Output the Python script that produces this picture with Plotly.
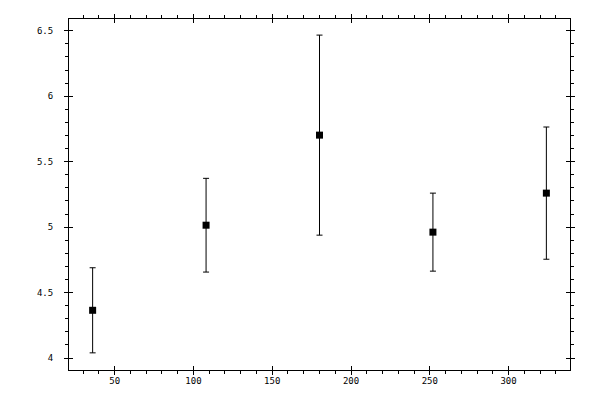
import plotly.graph_objects as go

# datos
angulos = [36, 108, 180, 252, 324]
valores = [4.365, 5.015, 5.703, 4.962, 5.260]
errores = [0.325, 0.358, 0.764, 0.298, 0.505]

xtick_vals = [50, 100, 150, 200, 250, 300]
ytick_vals = [4, 4.5, 5, 5.5, 6, 6.5]
ytick_text = ['4', '4.5', '5', '5.5', '6', '6.5']

xr = [21, 339]
yr = [3.909, 6.590]

fuente = dict(family='DejaVu Sans Mono', size=9, color='black')

fig = go.Figure()
fig.add_trace(go.Scatter(
    x=angulos, y=valores, mode='markers',
    marker=dict(symbol='square', size=7, color='black'),
    error_y=dict(type='data', array=errores, visible=True,
                 color='black', thickness=1, width=3),
    showlegend=False,
))
# traza vacia para el segundo juego de ejes (ticks hacia fuera)
fig.add_trace(go.Scatter(x=[], y=[], xaxis='x2', yaxis='y2', showlegend=False))

eje = dict(showgrid=False, zeroline=False, showline=True, linecolor='black',
           linewidth=1, mirror='ticks', ticks='inside', ticklen=4,
           tickcolor='black', tickwidth=1, tickfont=fuente)

# la pagina tiene 8px de margen en el body, se compensa aqui
fig.update_layout(
    width=600, height=400,
    margin=dict(l=61, r=38, t=11, b=38),
    paper_bgcolor='white', plot_bgcolor='white',
    xaxis=dict(eje, range=xr, tickvals=xtick_vals, ticklabelstandoff=2,
               minor=dict(dtick=10, ticks='outside', ticklen=3,
                          tickcolor='black', showgrid=False)),
    yaxis=dict(eje, range=yr, tickvals=ytick_vals, ticktext=ytick_text,
               ticklabelstandoff=13,
               minor=dict(dtick=0.1, ticks='outside', ticklen=3,
                          tickcolor='black', showgrid=False)),
    xaxis2=dict(overlaying='x', anchor='y2', range=xr, tickvals=xtick_vals,
                ticks='outside', ticklen=4, tickcolor='black', mirror='ticks',
                showticklabels=False, showline=False, showgrid=False,
                zeroline=False),
    yaxis2=dict(overlaying='y', anchor='x2', range=yr, tickvals=ytick_vals,
                ticks='outside', ticklen=4, tickcolor='black', mirror='ticks',
                showticklabels=False, showline=False, showgrid=False,
                zeroline=False),
)

fig.write_html("out.html")
